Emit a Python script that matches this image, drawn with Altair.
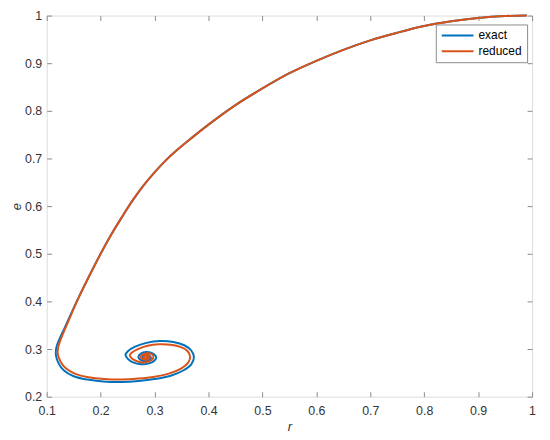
import altair as alt
import pandas as pd

# shared trajectory from the starting point down the big arc (both series overlap here)
arc_r = [0.990, 0.950, 0.900, 0.850, 0.800, 0.750, 0.700, 0.650, 0.600, 0.550,
         0.500, 0.450, 0.400, 0.360, 0.340, 0.320, 0.300, 0.280, 0.260, 0.240,
         0.220, 0.200, 0.180, 0.160]
arc_e = [1.000, 0.999, 0.995, 0.988, 0.978, 0.964, 0.948, 0.928, 0.905, 0.879,
         0.847, 0.812, 0.771, 0.735, 0.716, 0.695, 0.671, 0.644, 0.613, 0.578,
         0.541, 0.500, 0.456, 0.410]

# spiral part, exact model
exact_r = [0.145, 0.1335, 0.124, 0.118, 0.117, 0.122, 0.132, 0.150, 0.175, 0.205,
           0.240, 0.270, 0.300, 0.330, 0.353, 0.368, 0.373, 0.368, 0.355, 0.335,
           0.310, 0.285, 0.264, 0.251, 0.246, 0.250, 0.260, 0.275, 0.290, 0.300,
           0.303, 0.298, 0.285, 0.274, 0.270, 0.275, 0.285, 0.293, 0.291, 0.283,
           0.278, 0.282, 0.288, 0.286, 0.284]
exact_e = [0.374, 0.345, 0.322, 0.304, 0.288, 0.270, 0.255, 0.243, 0.236, 0.232,
           0.231, 0.233, 0.237, 0.244, 0.255, 0.268, 0.283, 0.297, 0.308, 0.315,
           0.317, 0.313, 0.305, 0.296, 0.288, 0.280, 0.272, 0.268, 0.270, 0.276,
           0.283, 0.290, 0.294, 0.290, 0.283, 0.277, 0.275, 0.280, 0.286, 0.288,
           0.283, 0.279, 0.281, 0.285, 0.283]

# spiral part, reduced model
reduced_r = [0.146, 0.135, 0.1265, 0.1215, 0.1205, 0.126, 0.136, 0.153, 0.177, 0.207,
             0.240, 0.270, 0.300, 0.328, 0.349, 0.362, 0.366, 0.361, 0.349, 0.330,
             0.308, 0.287, 0.269, 0.258, 0.254, 0.258, 0.266, 0.278, 0.290, 0.297,
             0.297, 0.289, 0.279, 0.274, 0.278, 0.286, 0.291, 0.288, 0.282, 0.280,
             0.285, 0.287, 0.284]
reduced_e = [0.374, 0.345, 0.322, 0.305, 0.290, 0.273, 0.259, 0.248, 0.241, 0.237,
             0.236, 0.238, 0.242, 0.249, 0.259, 0.271, 0.284, 0.296, 0.304, 0.309,
             0.310, 0.307, 0.300, 0.293, 0.287, 0.280, 0.275, 0.272, 0.274, 0.280,
             0.287, 0.291, 0.289, 0.284, 0.279, 0.278, 0.282, 0.287, 0.286, 0.282,
             0.281, 0.284, 0.284]

series_names = ["exact", "reduced"]
series_colors = ["#0072BD", "#D95319"]
x_ticks = [0.1, 0.2, 0.3, 0.4, 0.5, 0.6, 0.7, 0.8, 0.9, 1.0]
y_ticks = [0.2, 0.3, 0.4, 0.5, 0.6, 0.7, 0.8, 0.9, 1.0]

rows = []
for name, tr, te in [(series_names[0], exact_r, exact_e), (series_names[1], reduced_r, reduced_e)]:
    rr = arc_r + tr
    ee = arc_e + te
    for i, (a, b) in enumerate(zip(rr, ee)):
        rows.append({"series": name, "r": a, "e": b, "i": i})
df = pd.DataFrame(rows)

FONT = "Liberation Sans"
GRAY = "#8c8c8c"
LBL = "#333333"
FS = 12.5

xscale = alt.Scale(domain=[0.1, 1.0], nice=False, zero=False)
yscale = alt.Scale(domain=[0.2, 1.0], nice=False, zero=False)

main = alt.Chart(df).mark_line(strokeWidth=2, interpolate="catmull-rom").encode(
    x=alt.X("r:Q", scale=xscale,
            axis=alt.Axis(values=x_ticks, format=".1~f", tickSize=5, offset=-5,
                          domain=False, grid=False, labelPadding=8, labelFlush=False,
                          labelOverlap=False, labelBound=False,
                          tickColor=GRAY, labelColor=LBL, labelFont=FONT, labelFontSize=FS,
                          title="r", titleFont=FONT, titleFontSize=13, titleFontStyle="italic",
                          titleFontWeight="normal", titleColor=LBL, titlePadding=4)),
    y=alt.Y("e:Q", scale=yscale,
            axis=alt.Axis(values=y_ticks, format=".1~f", tickSize=5, offset=-5,
                          domain=False, grid=False, labelPadding=5, labelFlush=False,
                          labelOverlap=False, labelBound=False,
                          tickColor=GRAY, labelColor=LBL, labelFont=FONT, labelFontSize=FS,
                          title="e", titleFont=FONT, titleFontSize=13, titleFontStyle="italic",
                          titleFontWeight="normal", titleColor=LBL, titlePadding=1)),
    color=alt.Color("series:N",
                    scale=alt.Scale(domain=series_names, range=series_colors),
                    legend=alt.Legend(title=None, orient="none", legendX=392, legendY=9,
                                      symbolType="stroke", symbolSize=1024, symbolStrokeWidth=2,
                                      clipHeight=12,
                                      labelFont=FONT, labelFontSize=12, labelColor="#000000",
                                      labelOffset=4, rowPadding=4, padding=5,
                                      strokeColor=GRAY, fillColor="#ffffff", cornerRadius=0)),
    order=alt.Order("i:Q"),
)

frame = alt.Chart(df).mark_line(opacity=0).encode(
    x=alt.X("r:Q", scale=xscale,
            axis=alt.Axis(orient="top", values=x_ticks, tickSize=5, offset=-5, domain=False,
                          grid=False, labels=False, title=None, tickColor=GRAY)),
    y=alt.Y("e:Q", scale=yscale,
            axis=alt.Axis(orient="right", values=y_ticks, tickSize=5, offset=-5, domain=False,
                          grid=False, labels=False, title=None, tickColor=GRAY)),
    order=alt.Order("i:Q"),
)

chart = alt.layer(main, frame).resolve_axis(x="independent", y="independent").properties(
    width=489, height=384,
    autosize=alt.AutoSizeParams(type="none"),
    padding={"left": 39, "top": 6, "right": 10, "bottom": 40},
).configure_view(stroke=GRAY, strokeWidth=1).configure(background="white")

chart.save("out.html", embed_options={"renderer": "svg", "actions": False})
